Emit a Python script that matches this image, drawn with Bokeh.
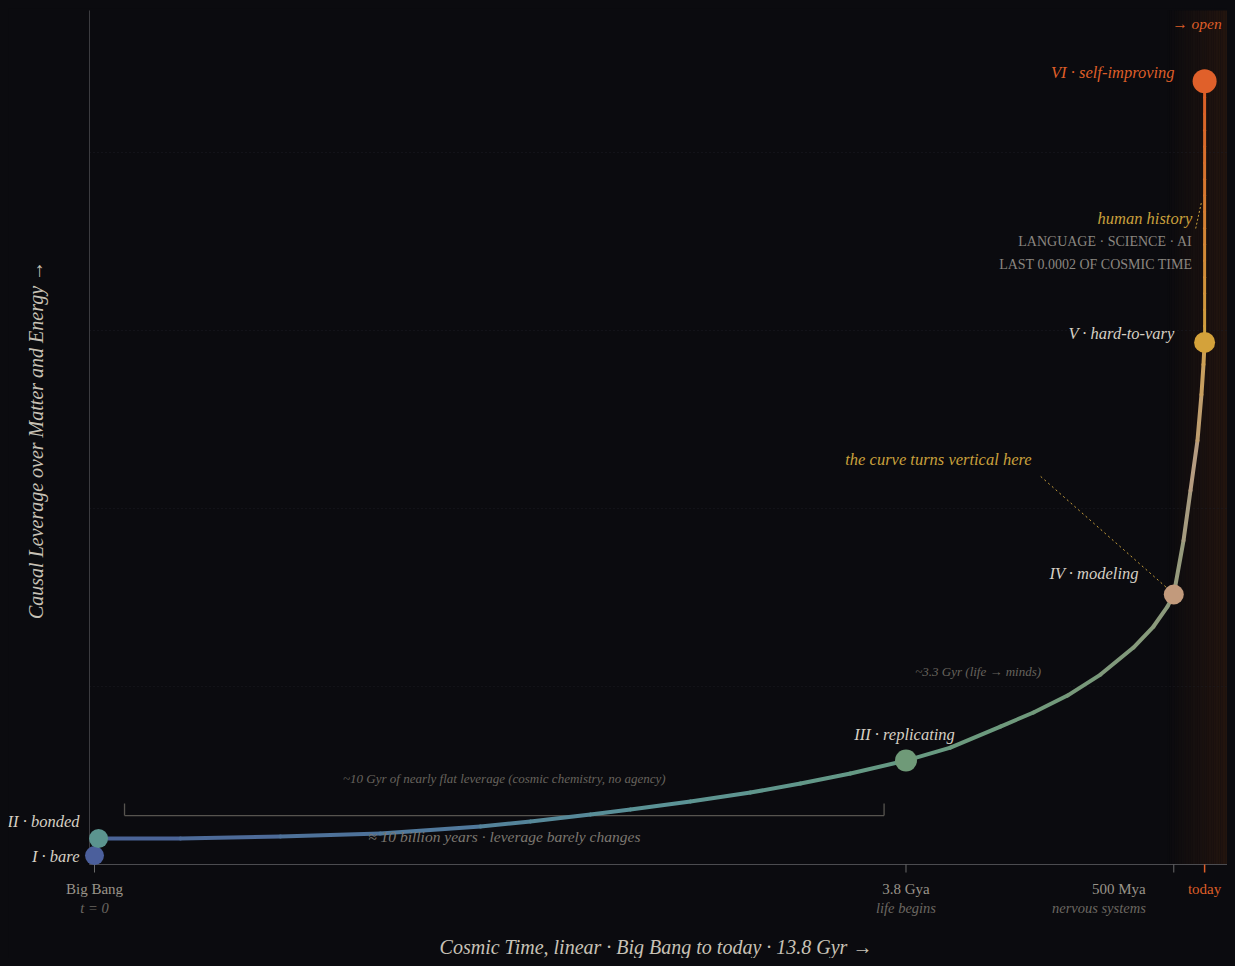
import numpy as np
from bokeh.plotting import figure
from bokeh.core.properties import value
from bokeh.embed import file_html
from bokeh.resources import INLINE

# ---------------- data ----------------
stage_names = ["I · bare", "II · bonded", "III · replicating",
               "IV · modeling", "V · hard-to-vary", "VI · self-improving"]
stage_t = [0.0, 0.05, 10.0, 13.3, 13.68, 13.68]          # Gyr after Big Bang
stage_lev = [0.05, 0.146, 0.584, 1.517, 2.933, 4.40]      # causal leverage (arb.)

curve_t = [0.049, 1.060, 2.292, 3.524, 4.757, 5.373, 6.112, 6.605, 7.344, 8.084,
           8.700, 9.316, 10.0, 10.547, 11.164, 11.571, 11.990, 12.397, 12.803,
           13.050, 13.222, 13.3, 13.420, 13.506, 13.592, 13.641, 13.666, 13.68]
curve_lev = [0.146, 0.146, 0.157, 0.174, 0.213, 0.242, 0.281, 0.309, 0.354, 0.404,
             0.455, 0.511, 0.584, 0.657, 0.775, 0.854, 0.949, 1.067, 1.219,
             1.337, 1.449, 1.517, 1.820, 2.101, 2.382, 2.640, 2.809, 2.933]

tick_t = [0.0, 10.0, 13.3]
tick_main = ["Big Bang", "3.8 Gya", "500 Mya"]
tick_sub = ["t = 0", "life begins", "nervous systems"]
today_t = 13.68
today_label = "today"
grid_lev = [1, 2, 3, 4]

bracket_t = [0.37, 9.73]
bracket_lev = 0.275

x_title = "Cosmic Time, linear · Big Bang to today · 13.8 Gyr  →"
y_title = "Causal Leverage over Matter and Energy  →"

# ---------------- style ----------------
FONT = "Liberation Serif"
BG = "#0b0b0f"
LIGHT = "#d6d0c4"
GOLD = "#c9a03c"
ORANGE = "#de5e28"
stage_colors = ["#4b5f9c", "#5b948f", "#6f9a78", "#c29a7c", "#d4a23a", "#e0602a"]
stage_sizes = [19, 19, 22, 20, 21, 24]

X0, X1 = -0.0616, 13.962     # plot-area extent in data units
Y1 = 4.798

p = figure(width=1219, height=950, output_backend="svg", toolbar_location=None,
           x_range=(-1.0598, 13.962), y_range=(-0.5281, 4.809),
           min_border=0, background_fill_color=BG, border_fill_color=BG,
           outline_line_color=None)
p.axis.visible = False
p.grid.visible = False

# today band gradient
n = 26
edges = np.linspace(13.22, X1, n + 1)
p.quad(left=edges[:-1], right=edges[1:], bottom=0, top=Y1,
       fill_color="#23150f", fill_alpha=np.linspace(0.03, 1.0, n), line_color=None)

# grid lines
p.segment(x0=[X0] * len(grid_lev), y0=grid_lev, x1=[X1] * len(grid_lev), y1=grid_lev,
          line_color="#1d1d24", line_width=1, line_dash="1 3")

# axes
p.segment(x0=[X0], y0=[0], x1=[X0], y1=[Y1], line_color="#3c3c40", line_width=1)
p.segment(x0=[X0], y0=[0], x1=[X1], y1=[0], line_color="#4c4c50", line_width=1.2)
p.segment(x0=tick_t, y0=[0] * 3, x1=tick_t, y1=[-0.045] * 3, line_color="#6a6a6a",
          line_width=1)
p.segment(x0=[today_t], y0=[0], x1=[today_t], y1=[-0.045], line_color=ORANGE,
          line_width=1.5)

# bracket
p.segment(x0=[bracket_t[0], bracket_t[0], bracket_t[1]],
          y0=[bracket_lev, bracket_lev, bracket_lev],
          x1=[bracket_t[1], bracket_t[0], bracket_t[1]],
          y1=[bracket_lev, bracket_lev + 0.068, bracket_lev + 0.068],
          line_color="#57544f", line_width=1.3)

# gradient curve
stops = [(0.0, "#4a6196"), (0.3, "#50789c"), (0.5, "#5a9298"), (0.75, "#669a82"),
         (0.9, "#73997a"), (1.0, "#8e9a7c"), (1.5, "#b49c82"), (2.0, "#cfa050")]


def hex2rgb(h):
    return np.array([int(h[i:i + 2], 16) for i in (1, 3, 5)], float)


def colour_at(q):
    for (a, ca), (b, cb) in zip(stops[:-1], stops[1:]):
        if q <= b:
            f = (q - a) / (b - a)
            c = hex2rgb(ca) * (1 - f) + hex2rgb(cb) * f
            return "#%02x%02x%02x" % tuple(int(round(v)) for v in c)
    return stops[-1][1]


def progress(t, lev):
    if lev <= stage_lev[3]:
        return t / stage_t[3]
    return 1 + (lev - stage_lev[3]) / (stage_lev[4] - stage_lev[3])


ct = np.array(curve_t)
cl = np.array(curve_lev)
seg_cols = [colour_at(progress((ct[i] + ct[i + 1]) / 2, (cl[i] + cl[i + 1]) / 2))
            for i in range(len(ct) - 1)]
p.segment(x0=ct[:-1], y0=cl[:-1], x1=ct[1:], y1=cl[1:], line_color=seg_cols,
          line_width=4, line_cap="round")

# vertical V -> VI
m = 16
vy = np.linspace(stage_lev[4], stage_lev[5], m + 1)
c0, c1 = hex2rgb("#cfa040"), hex2rgb("#dc5e26")
vcols = ["#%02x%02x%02x" % tuple(int(round(v)) for v in (c0 * (1 - f) + c1 * f))
         for f in np.linspace(0, 1, m)]
p.segment(x0=[stage_t[4]] * m, y0=vy[:-1], x1=[stage_t[5]] * m, y1=vy[1:],
          line_color=vcols, line_width=3, line_cap="round")

# leaders
p.segment(x0=[11.66], y0=[2.180], x1=[13.28], y1=[1.528], line_color=GOLD,
          line_width=1, line_dash="2 3")
p.segment(x0=[13.57], y0=[3.573], x1=[13.64], y1=[3.719], line_color=GOLD,
          line_width=1, line_dash="2 2")

# stage points
p.scatter(x=stage_t, y=stage_lev, size=stage_sizes, fill_color=stage_colors,
          line_color=None)


def txt(x, y, s, size, color, align="center", style="italic", dx=0, dy=0, angle=0):
    p.text(x=[x], y=[y], text=[s], text_font=value(FONT), text_font_style=style,
           text_font_size=size, text_color=color, text_align=align,
           text_baseline="middle", x_offset=dx, y_offset=dy, angle=angle)


# annotations inside plot
txt(5.05, 0.483, "~10 Gyr of nearly flat leverage (cosmic chemistry, no agency)", "13px", "#67635d")
txt(5.05, 0.157, "≈ 10 billion years · leverage barely changes", "15.5px", "#7c776f")
txt(10.89, 1.084, "~3.3 Gyr (life → minds)", "13px", "#67635d")
txt(10.40, 2.275, "the curve turns vertical here", "16.5px", GOLD)
txt(13.53, 3.629, "human history", "16.5px", GOLD, align="right")
txt(13.53, 3.500, "LANGUAGE · SCIENCE · AI", "14px", "#8a8680", align="right", style="normal")
txt(13.53, 3.371, "LAST 0.0002 OF COSMIC TIME", "14px", "#8a8680", align="right", style="normal")
txt(13.89, 4.725, "→ open", "15.5px", ORANGE, align="right")

# stage labels (offsets in screen px; +dy = down)
lab_dx = [-15, -19, -1.5, -35, -30, -30]
lab_dy = [1, -17, -26, -21, -9, -9]
lab_align = ["right", "right", "center", "right", "right", "right"]
lab_col = [LIGHT, LIGHT, LIGHT, LIGHT, LIGHT, ORANGE]
for i in range(6):
    txt(stage_t[i], stage_lev[i], stage_names[i], "16.5px", lab_col[i],
        align=lab_align[i], dx=lab_dx[i], dy=lab_dy[i])

# tick labels
main_dx = [0, 0, -28]
main_align = ["center", "center", "right"]
for i in range(3):
    txt(tick_t[i], -0.140, tick_main[i], "15px", "#9a948a", align=main_align[i],
        style="normal", dx=main_dx[i])
    txt(tick_t[i], -0.242, tick_sub[i], "14.5px", "#6c6862", align=main_align[i],
        dx=main_dx[i])
txt(today_t, -0.140, today_label, "15px", ORANGE, style="normal")

# axis titles
txt((X0 + X1) / 2, -0.461, x_title, "20px", "#c8c2b6")
txt(-0.727, Y1 / 2, y_title, "20px", "#c8c2b6", angle=np.pi / 2)

html = file_html(p, INLINE)
html = html.replace("</head>",
                    "<style>html,body{background:#0b0b0f !important;box-sizing:border-box !important;}"
                    "body{padding:8px !important;margin:0 !important;}</style></head>", 1)
open("out.html", "w").write(html)
